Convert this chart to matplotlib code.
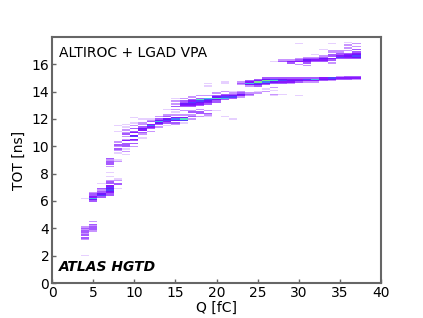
import matplotlib
matplotlib.use("Agg")
import matplotlib.pyplot as plt
from matplotlib.colors import LinearSegmentedColormap
import numpy as np

# one line per Q column: (Q bin centre, TOT bin centre, entries)
q_cols = []
tot_cols = []
count_cols = []

def add_column(q, tots, counts):
    for t, c in zip(tots, counts):
        q_cols.append(q)
        tot_cols.append(t)
        count_cols.append(c)

add_column(4, [2.0, 3.2, 3.3, 3.5, 3.6, 3.7, 3.8, 3.9, 4.0, 4.1, 6.2], [1, 2, 3, 3, 2, 3, 3, 2, 3, 2, 1])
add_column(5, [3.8, 3.9, 4.0, 4.1, 4.2, 4.3, 4.5, 6.0, 6.1, 6.2, 6.3, 6.4, 6.5, 6.6], [2, 3, 3, 3, 2, 3, 2, 3, 5, 8, 4, 3, 3, 2])
add_column(6, [6.3, 6.4, 6.5, 6.6, 6.7, 6.8, 6.9, 7.3], [3, 6, 5, 3, 3, 2, 3, 1])
add_column(7, [6.4, 6.5, 6.6, 6.7, 6.8, 6.9, 7.0, 7.1, 7.3, 7.4, 7.5, 7.8, 8.1, 8.5, 8.7, 8.8, 8.9, 9.0, 9.1],
           [3, 3, 4, 5, 6, 5, 6, 4, 3, 3, 2, 1, 1, 2, 3, 3, 3, 2, 3])
add_column(8, [6.9, 7.2, 7.3, 7.5, 7.6, 8.9, 9.0, 9.5, 9.7, 9.8, 10.0, 10.1, 10.3, 11.1, 11.5],
           [1, 3, 3, 2, 1, 2, 1, 1, 2, 3, 2, 3, 2, 1, 1])
add_column(9, [9.4, 9.6, 9.8, 10.0, 10.1, 10.2, 10.4, 10.5, 10.7, 10.9, 11.0, 11.2, 11.4, 11.6],
           [1, 2, 1, 3, 3, 3, 4, 2, 2, 3, 2, 2, 1, 1])
add_column(10, [10.0, 10.2, 10.4, 10.5, 10.7, 10.8, 11.0, 11.1, 11.3, 11.5, 11.7, 12.1],
           [2, 3, 3, 4, 6, 5, 4, 3, 3, 2, 1, 1])
add_column(11, [10.6, 10.9, 11.0, 11.2, 11.3, 11.4, 11.6, 11.7, 12.0], [1, 2, 3, 4, 5, 3, 2, 2, 1])
add_column(12, [11.1, 11.3, 11.4, 11.5, 11.6, 11.8, 11.9, 12.0], [2, 3, 4, 7, 4, 3, 2, 1])
add_column(13, [11.4, 11.6, 11.7, 11.8, 11.9, 12.0, 12.2], [2, 3, 5, 8, 5, 3, 2])
add_column(14, [11.5, 11.7, 11.8, 11.9, 12.0, 12.2, 12.3, 12.7], [1, 3, 4, 6, 5, 3, 2, 1])
add_column(15, [11.6, 11.7, 11.9, 12.0, 12.1, 12.3, 12.5, 12.7, 12.9, 13.1, 13.3, 13.5],
           [2, 3, 5, 7, 4, 2, 1, 2, 3, 2, 2, 1])
add_column(16, [11.7, 11.9, 12.0, 12.1, 12.3, 12.6, 12.9, 13.0, 13.1, 13.2, 13.3, 13.5],
           [1, 6, 9, 4, 2, 2, 3, 4, 5, 3, 3, 2])
add_column(17, [12.0, 12.2, 12.3, 12.5, 12.6, 12.9, 13.0, 13.1, 13.2, 13.3, 13.4, 13.6],
           [2, 3, 2, 3, 2, 3, 4, 5, 6, 4, 3, 2])
add_column(18, [12.2, 12.4, 12.5, 12.7, 13.0, 13.1, 13.2, 13.3, 13.4, 13.5, 13.7],
           [2, 3, 3, 2, 3, 4, 5, 6, 9, 3, 2])
add_column(19, [12.2, 12.3, 12.4, 12.6, 13.1, 13.2, 13.3, 13.4, 13.5, 13.7, 14.4, 14.6],
           [1, 2, 3, 2, 3, 4, 5, 6, 8, 2, 1, 1])
add_column(20, [12.6, 13.2, 13.3, 13.4, 13.5, 13.6, 13.7, 13.9], [1, 3, 3, 5, 9, 5, 3, 2])
add_column(21, [12.2, 13.4, 13.5, 13.6, 13.7, 13.8, 14.0, 14.6, 14.7], [1, 3, 8, 6, 4, 3, 2, 1, 1])
add_column(22, [12.0, 13.5, 13.6, 13.7, 13.8, 13.9, 14.0], [1, 3, 6, 5, 3, 2, 1])
add_column(23, [13.6, 13.7, 13.8, 13.9, 14.0, 14.5, 14.6, 14.7], [2, 4, 5, 3, 2, 2, 3, 2])
add_column(24, [13.7, 13.8, 13.9, 14.4, 14.5, 14.6, 14.7, 14.8], [2, 3, 2, 2, 5, 8, 4, 3])
add_column(25, [13.9, 14.0, 14.4, 14.5, 14.6, 14.7, 14.8, 14.9], [2, 1, 3, 5, 6, 10, 4, 3])
add_column(26, [14.0, 14.2, 14.5, 14.6, 14.7, 14.8, 14.9, 15.0], [2, 1, 3, 5, 7, 10, 5, 3])
add_column(27, [13.7, 13.8, 14.1, 14.3, 14.6, 14.7, 14.8, 14.9, 15.0, 16.2], [1, 2, 1, 2, 3, 5, 9, 6, 3, 1])
add_column(28, [13.8, 14.6, 14.7, 14.8, 14.9, 15.0, 16.2, 16.3], [1, 3, 4, 6, 5, 3, 3, 2])
add_column(29, [14.6, 14.7, 14.8, 14.9, 15.0, 16.1, 16.2, 16.3], [2, 4, 5, 4, 3, 3, 4, 2])
add_column(30, [13.7, 14.7, 14.8, 14.9, 15.0, 16.0, 16.2, 16.3, 16.4, 17.5], [1, 3, 5, 4, 3, 2, 4, 3, 2, 1])
add_column(31, [14.7, 14.8, 14.9, 15.0, 15.9, 16.1, 16.2, 16.3, 16.4, 16.5], [2, 4, 6, 3, 2, 3, 4, 5, 3, 2])
add_column(32, [14.7, 14.8, 14.9, 15.0, 16.2, 16.3, 16.4, 16.5, 16.7], [2, 4, 8, 3, 3, 4, 3, 2, 1])
add_column(33, [14.8, 14.9, 15.0, 16.2, 16.3, 16.4, 16.5, 16.6, 17.1], [3, 5, 4, 3, 4, 5, 3, 2, 1])
add_column(34, [14.8, 14.9, 15.0, 16.1, 16.3, 16.4, 16.6, 16.7, 16.9, 17.0, 17.5],
           [2, 5, 6, 2, 3, 4, 3, 3, 2, 2, 1])
add_column(35, [14.9, 15.0, 15.1, 16.4, 16.5, 16.6, 16.7, 16.8, 16.9, 17.0], [3, 4, 2, 3, 6, 4, 3, 3, 2, 2])
add_column(36, [14.9, 15.0, 15.1, 16.4, 16.5, 16.6, 16.7, 16.8, 17.0, 17.2, 17.4, 17.6],
           [3, 4, 3, 3, 4, 5, 4, 3, 2, 2, 2, 1])
add_column(37, [14.9, 15.0, 15.1, 16.4, 16.5, 16.6, 16.7, 16.8, 16.9, 17.1, 17.3, 17.5],
           [2, 4, 3, 3, 5, 6, 5, 4, 3, 3, 2, 2])

q_edges = np.arange(3.5, 38.0, 1.0)
tot_edges = np.arange(-0.05, 18.1, 0.1)

cmap = LinearSegmentedColormap.from_list(
    "hgtd", ["#e6d0ff", "#c48cff", "#9c48ff", "#8000ff", "#6428ff", "#4060ff", "#40aef0", "#50e0c8", "#78f090"])

fig = plt.figure(figsize=(4.23, 3.18), dpi=100)
ax = fig.add_axes([0.123, 0.110, 0.778, 0.774])

h = ax.hist2d(q_cols, tot_cols, bins=[q_edges, tot_edges], weights=count_cols,
              cmap=cmap, vmin=1, vmax=10, cmin=0.5)
h[3].set_antialiased(False)

ax.set_xlim(0, 40)
ax.set_ylim(0, 18)
ax.set_xticks(np.arange(0, 41, 5))
ax.set_yticks(np.arange(0, 17, 2))
ax.tick_params(direction="in", length=3, width=1, labelsize=10, color="#666666", pad=2)
for s in ax.spines.values():
    s.set_color("#666666")
    s.set_linewidth(1.5)

ax.set_xlabel("Q [fC]", fontsize=10, labelpad=1)
ax.set_ylabel("TOT [ns]", fontsize=10, labelpad=4)

ax.text(0.022, 0.965, "ALTIROC + LGAD VPA", transform=ax.transAxes, fontsize=10, va="top", ha="left")
ax.text(0.02, 0.035, "ATLAS HGTD", transform=ax.transAxes, fontsize=10, fontweight="bold",
        fontstyle="italic", va="bottom", ha="left")

fig.savefig("out.png", dpi=100)
